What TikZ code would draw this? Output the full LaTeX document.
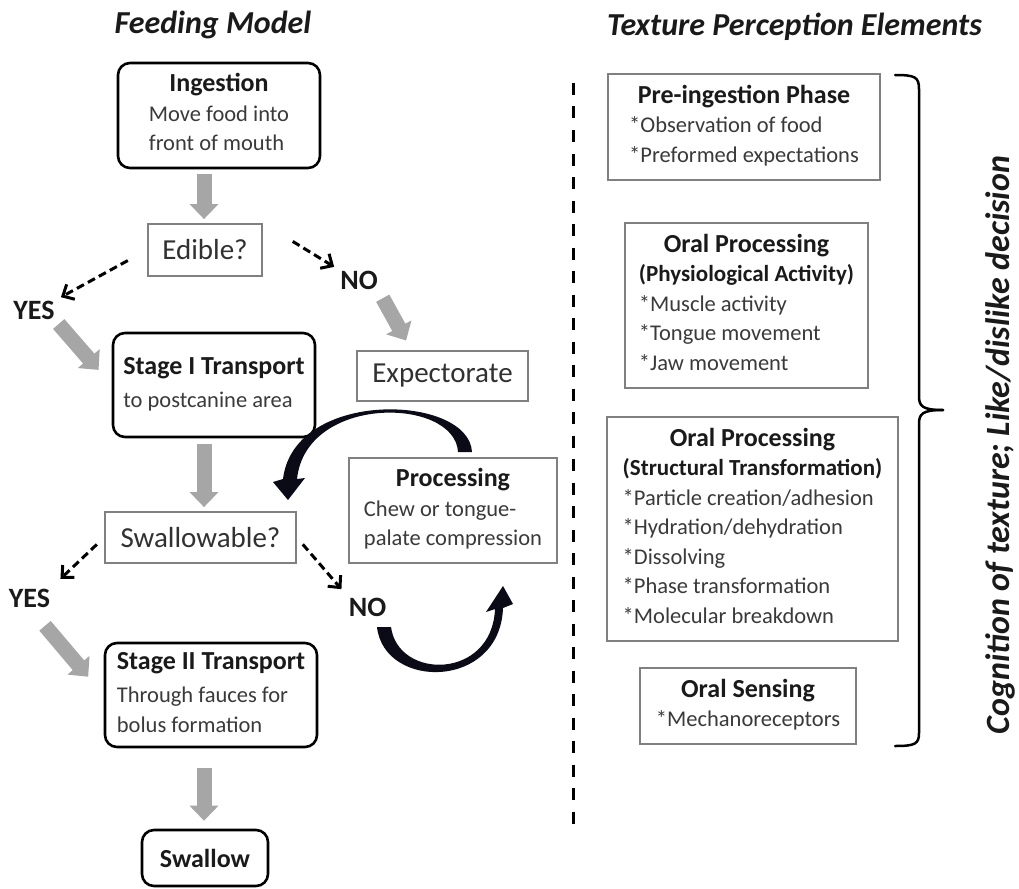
\documentclass[tikz,border=0pt]{standalone}
\usepackage{fontspec}
\setmainfont{Carlito}
\usetikzlibrary{arrows.meta,calc}

\definecolor{ink}{HTML}{1A1A1A}
\definecolor{bodytext}{HTML}{3A3A3A}
\definecolor{frame}{HTML}{808080}
\definecolor{flowgray}{HTML}{A6A6A6}
\definecolor{loopink}{HTML}{0B0B18}

% headings inside boxes
\newcommand{\hd}[1]{{\fontsize{26}{29.5}\selectfont\bfseries\color{ink}#1}}
\newcommand{\subhd}[1]{{\fontsize{23}{29.5}\selectfont\bfseries\color{ink}#1}}
% bullet-star of the list items
\newcommand{\itm}{{*}}
% centred title over a left-aligned block of lines
\newcommand{\stackc}[2]{\begin{tabular}{@{}l@{}}\multicolumn{1}{@{}c@{}}{#1}\\#2\end{tabular}}
\newcommand{\stackl}[1]{\begin{tabular}{@{}l@{}}#1\end{tabular}}

\tikzset{
  base/.style={inner sep=0pt, font=\fontsize{22.5}{29.5}\selectfont, text=bodytext},
  roundbox/.style={base, draw=black, line width=2.6pt, rounded corners=12pt},
  framebox/.style={base, draw=frame, line width=1.8pt},
  question/.style={framebox, font=\fontsize{29}{34}\selectfont, text=ink!90},
  answer/.style={inner sep=0pt, font=\fontsize{28}{30}\selectfont\bfseries, text=ink},
  heading/.style={inner sep=0pt, font=\fontsize{32}{36}\selectfont\bfseries\itshape, text=ink},
  flow/.style={draw=flowgray, line width=15pt, -{Triangle[length=15pt,width=28pt]}},
  choice/.style={draw=black, line width=3pt, dash pattern=on 8pt off 4.5pt,
                 -{Straight Barb[length=9pt,width=17pt]}},
  divider/.style={draw=black, line width=3pt, dash pattern=on 12pt off 11.5pt},
  bracket/.style={draw=black, line width=2.5pt, line cap=round},
  loop/.style={fill=loopink}
}

\begin{document}
\begin{tikzpicture}[x=1pt,y=-1pt]
\fill[white] (0,0) rectangle (1019,888);
\useasboundingbox (0,0) rectangle (1019,888);

% ---------- titles ----------
\node[heading] (fmtitle) at (213,25) {Feeding Model};
\node[heading] (tptitle) at (794.5,27) {Texture Perception Elements};

% ---------- feeding model ----------
\coordinate (spine) at (204,0);

\node[roundbox, minimum width=202pt, minimum height=105pt] (ing) at (219,115.5)
  {\stackc{\hd{Ingestion}}{Move food into\\front of mouth}};
\node[question, minimum width=114pt, minimum height=52pt] (edible) at (205,250) {Edible?};
\node[answer] (yes1) at (34,310) {YES};
\node[answer] (no1) at (359,280) {NO};
\node[roundbox, minimum width=202pt, minimum height=104pt] (s1) at (214,385)
  {\stackl{\hd{Stage I Transport}\\[4pt]to postcanine area}};
\node[question, minimum width=171pt, minimum height=50pt] (exp) at (442.5,376) {Expectorate};
\node[framebox, minimum width=208pt, minimum height=105pt] (proc) at (453,510.5)
  {\stackc{\hd{Processing}}{Chew or tongue-\\palate compression}};
\node[question, minimum width=191pt, minimum height=51pt] (sw) at (200.5,537.5) {Swallowable?};
\node[answer] (yes2) at (29.5,598) {YES};
\node[answer] (no2) at (367.5,607) {NO};
\node[roundbox, minimum width=212pt, minimum height=104pt] (s2) at (211,695)
  {\stackl{\hd{Stage II Transport}\\[4pt]Through fauces for\\bolus formation}};
\node[roundbox, minimum width=126pt, minimum height=56pt] (swallow) at (205,858) {\hd{Swallow}};

% grey flow arrows
\draw[flow, shorten <=5pt, shorten >=4pt] (spine |- ing.south) -- (spine |- edible.north);
\draw[flow, shorten <=6pt, shorten >=4pt] (spine |- s1.south) -- (spine |- sw.north);
\draw[flow, shorten <=20pt, shorten >=8pt] (spine |- s2.south) -- (spine |- swallow.north);
\draw[flow, shorten <=6pt, shorten >=20pt] (yes1.south east) -- (s1.west);
\draw[flow, shorten <=10pt, shorten >=11pt] (no1.south east) -- ($(exp.north west)!0.32!(exp.north east)$);
\draw[flow, shorten <=24pt, shorten >=24pt] (yes2.south) -- (s2.west);

% dashed decision arrows
\draw[choice, shorten <=22pt, shorten >=7pt] (edible.west) -- (yes1.north east);
\draw[choice, shorten <=35pt, shorten >=7pt] (edible.north east) -- (no1.north west);
\draw[choice, shorten <=10pt, shorten >=14pt] (sw.west) -- (yes2.north east);
\draw[choice, shorten <=9pt, shorten >=11pt] (sw.east) -- (no2.north west);

% processing loop: back to the swallow check, and in from NO
\fill[loop] (472,452) .. controls (469,394) and (294,388) .. (283,479)
  -- (273,482) -- (288,500) -- (305,478) -- (297,479)
  .. controls (306,394) and (455,397) .. (458,452) -- cycle;
\fill[loop] (377,627) .. controls (384,690) and (500,690) .. (503,608)
  -- (513,604) -- (503,586) -- (486,612) -- (495,609)
  .. controls (492,680) and (398,680) .. (391,627) -- cycle;

% ---------- divider ----------
\coordinate (divtop) at (573,83);
\coordinate (divbot) at (573,826);
\draw[divider] (divtop) -- (divbot);

% ---------- texture perception elements ----------
\node[framebox, minimum width=272pt, minimum height=106pt] (pre) at (744,127)
  {\stackc{\hd{Pre-ingestion Phase}}{\itm Observation of food\\\itm Preformed expectations}};
\node[framebox, minimum width=243pt, minimum height=165pt] (op1) at (746.5,305.5)
  {\stackc{\hd{Oral Processing}}{\subhd{(Physiological Activity)}\\\itm Muscle activity\\\itm Tongue movement\\\itm Jaw movement}};
\node[framebox, minimum width=291pt, minimum height=224pt] (op2) at (752.5,529)
  {\stackc{\hd{Oral Processing}}{\subhd{(Structural Transformation)}\\\itm Particle creation/adhesion\\\itm Hydration/dehydration\\\itm Dissolving\\\itm Phase transformation\\\itm Molecular breakdown}};
\node[framebox, minimum width=216pt, minimum height=76pt] (sense) at (748,706)
  {\stackc{\hd{Oral Sensing}}{\itm Mechanoreceptors}};

% brace gathering all elements
\coordinate (btop) at (895,75);
\coordinate (btip) at (943,410);
\coordinate (bbot) at (895,746);
\draw[bracket] (btop) .. controls (915,75) and (919,77) .. (919,89) -- (919,396)
  .. controls (919,406) and (922,410) .. (btip);
\draw[bracket] (btip) .. controls (922,410) and (919,414) .. (919,424) -- (919,733)
  .. controls (919,744) and (915,746) .. (bbot);

\node[heading, rotate=90, font=\fontsize{34}{38}\selectfont\bfseries\itshape] (verdict)
  at (1000,445) {Cognition of texture; Like/dislike decision};
\end{tikzpicture}
\end{document}
